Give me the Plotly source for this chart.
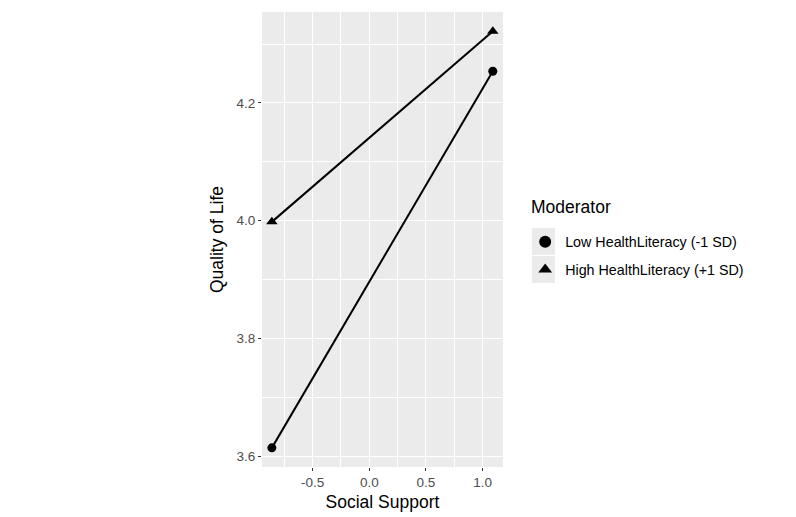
import plotly.graph_objects as go

x_vals = [-0.86, 1.09]
low_vals = [3.614, 4.254]
high_vals = [3.998, 4.322]
series_names = ["Low HealthLiteracy (-1 SD)", "High HealthLiteracy (+1 SD)"]
x_ticks = [-0.5, 0.0, 0.5, 1.0]
x_tick_labels = ["-0.5", "0.0", "0.5", "1.0"]
y_ticks = [3.6, 3.8, 4.0, 4.2]
y_tick_labels = ["3.6", "3.8", "4.0", "4.2"]

FONT = "Liberation Sans, Arial, sans-serif"
fig = go.Figure()

for vals in [low_vals, high_vals]:
    fig.add_trace(go.Scatter(x=x_vals, y=vals, mode="lines", line=dict(color="black", width=2),
                             showlegend=False, hoverinfo="skip"))
for i, (vals, sym, name) in enumerate([(low_vals, "circle", series_names[0]),
                                       (high_vals, "triangle-up", series_names[1])]):
    fig.add_trace(go.Scatter(x=x_vals, y=vals, mode="markers", name=name, legendgroup=f"g{i}",
                             marker=dict(symbol=sym, color="black", size=9 if sym == "circle" else 10)))

axis_common = dict(showgrid=True, gridcolor="white", gridwidth=1.2, zeroline=False,
                   ticks="outside", ticklen=3, tickwidth=1.1, tickcolor="#333333",
                   tickfont=dict(family=FONT, size=13.5, color="#4D4D4D"),
                   showline=False, mirror=False, automargin=False)

fig.update_xaxes(range=[-0.947, 1.180], tickvals=x_ticks, ticktext=x_tick_labels,
                 title=dict(text="Social Support", font=dict(family=FONT, size=17.5, color="black"), standoff=6),
                 minor=dict(dtick=0.25, tick0=0, showgrid=True, gridcolor="white", gridwidth=0.6, ticks=""),
                 **axis_common)
fig.update_yaxes(range=[3.5815, 4.3546], tickvals=y_ticks, ticktext=y_tick_labels,
                 title=dict(text="Quality of Life", font=dict(family=FONT, size=17.5, color="black"), standoff=8),
                 minor=dict(dtick=0.1, tick0=0, showgrid=True, gridcolor="white", gridwidth=0.6, ticks=""),
                 **axis_common)

# grey legend key backgrounds (ggplot style)
for y0, y1 in [(0.4659, 0.5253), (0.4044, 0.4637)]:
    fig.add_shape(type="rect", xref="paper", yref="paper", x0=1.1203, x1=1.2158, y0=y0, y1=y1,
                  fillcolor="#EBEBEB", line=dict(width=0), layer="below")

fig.add_annotation(text="Moderator", xref="paper", yref="paper", x=1.108, y=0.5714,
                   xanchor="left", yanchor="middle", showarrow=False,
                   font=dict(family=FONT, size=17.5, color="black"))

fig.update_layout(
    width=796, height=517,
    margin=dict(l=254, r=301, t=4, b=58, autoexpand=False),
    plot_bgcolor="#EBEBEB", paper_bgcolor="white",
    font=dict(family=FONT, color="black"),
    legend=dict(x=1.092, y=0.5296, xanchor="left", yanchor="top",
                font=dict(family=FONT, size=14.3, color="black"), traceorder="grouped",
                bgcolor="rgba(0,0,0,0)", tracegroupgap=6, itemsizing="constant"),
)

fig.write_html("out.html")
